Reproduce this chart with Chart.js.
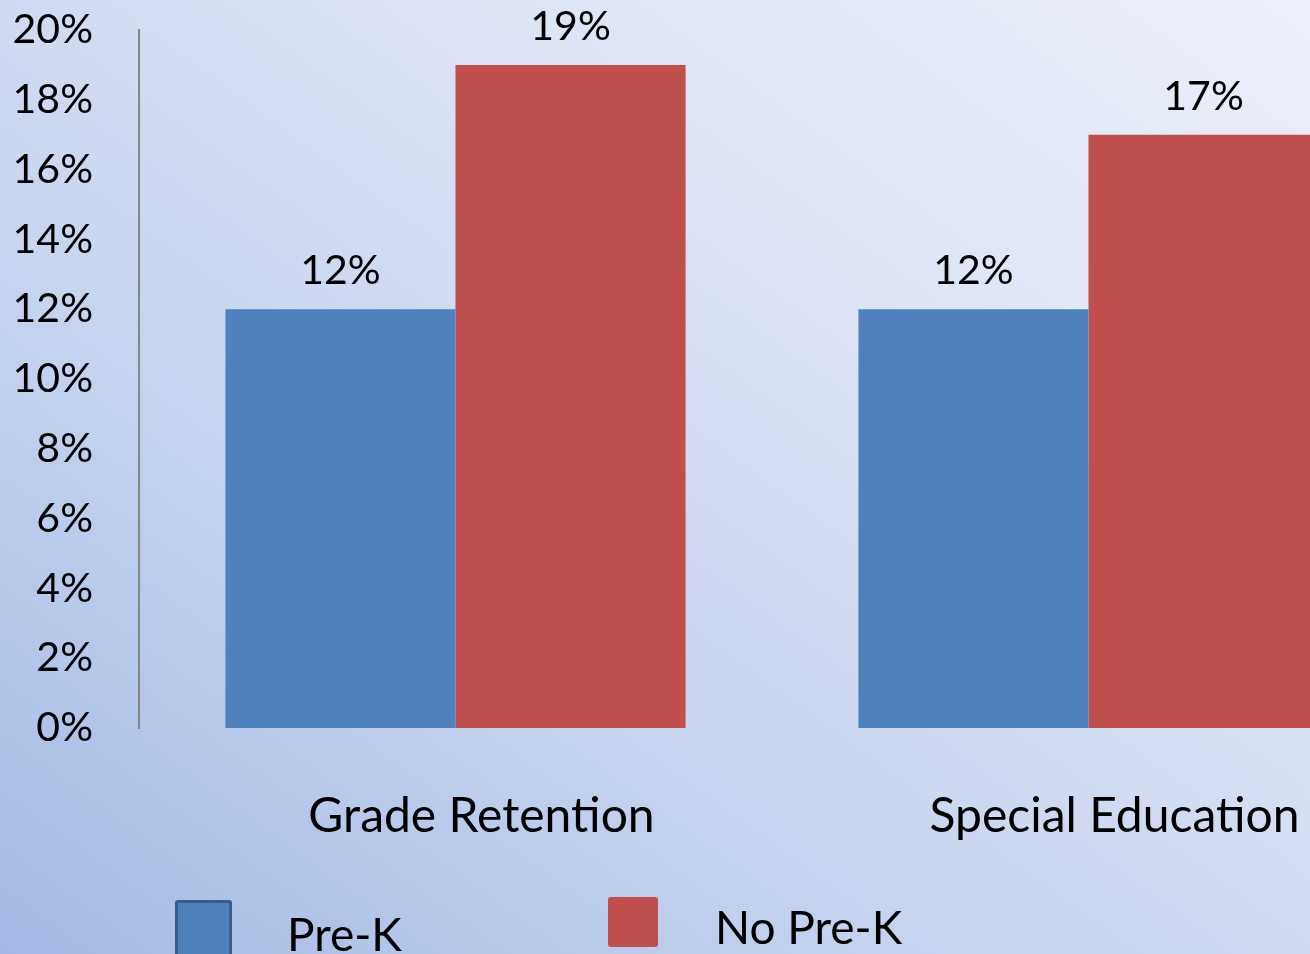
<!DOCTYPE html>
<html>
<head>
<meta charset="utf-8">
<script src="https://cdn.jsdelivr.net/npm/chart.js@4.4.1/dist/chart.umd.min.js"></script>
<style>
    html, body {
        margin: 0;
        padding: 0;
        width: 1310px;
        height: 954px;
        overflow: hidden;
    }
    body {
        position: relative;
        background: linear-gradient(to top right, #a4b9e4 0%, #c5d3ee 35%, #dbe3f4 65%, #ebeff9 100%);
        font-family: Lato, "Open Sans", sans-serif;
    }
    #wrap {
        position: absolute;
        left: 0;
        top: 0;
        width: 1405px;
        height: 954px;
    }
    .legend-item {
        position: absolute;
        font-size: 46px;
        line-height: 1;
        color: #000;
    }
    .legend-box {
        position: absolute;
        box-sizing: border-box;
    }
</style>
</head>
<body>
<div id="wrap"><canvas id="barChart"></canvas></div>
<div id="legend"></div>

<script>
// Chart data
const categories = ['Grade Retention', 'Special Education'];
const preK = [12, 12];     // Pre-K (%)
const noPreK = [19, 17];   // No Pre-K (%)
const yTicks = [0, 2, 4, 6, 8, 10, 12, 14, 16, 18, 20];

const blue = '#4f81bd';
const red = '#c0504d';

// Plugin to draw the value labels above each bar
const valueLabels = {
    id: 'valueLabels',
    afterDatasetsDraw(chart) {
        const ctx = chart.ctx;
        ctx.save();
        ctx.font = '41px Lato';
        ctx.fillStyle = '#000';
        ctx.textAlign = 'center';
        ctx.textBaseline = 'middle';
        chart.data.datasets.forEach((ds, i) => {
            chart.getDatasetMeta(i).data.forEach((bar, j) => {
                ctx.fillText(ds.data[j] + '%', bar.x, bar.y - 38);
            });
        });
        ctx.restore();
    }
};

const ctx = document.getElementById('barChart').getContext('2d');
const chart = new Chart(ctx, {
    type: 'bar',
    data: {
        labels: categories,
        datasets: [
            { label: 'Pre-K', data: preK, backgroundColor: blue },
            { label: 'No Pre-K', data: noPreK, backgroundColor: red }
        ]
    },
    options: {
        responsive: true,
        maintainAspectRatio: false,
        animation: false,
        categoryPercentage: 0.727,
        barPercentage: 1,
        layout: { padding: { top: 30, left: 0, right: 0, bottom: 0 } },
        plugins: {
            legend: { display: false },
            tooltip: { enabled: false }
        },
        scales: {
            x: {
                grid: { display: false },
                border: { display: false },
                ticks: {
                    color: '#000',
                    font: { family: 'Lato', size: 48 },
                    padding: 52,
                    labelOffset: 26,
                    maxRotation: 0,
                    autoSkip: false
                },
                afterFit: (scale) => { scale.height = 226; }
            },
            y: {
                min: 0,
                max: 20,
                grid: { display: false, drawTicks: false },
                border: { display: true, color: '#868686', width: 2 },
                afterBuildTicks: (scale) => { scale.ticks = yTicks.map(v => ({ value: v })); },
                ticks: {
                    color: '#000',
                    font: { family: 'Lato', size: 41 },
                    padding: 46,
                    callback: (v) => v + '%'
                },
                afterFit: (scale) => {
                    scale.width = 139;
                    scale.paddingTop = 0;
                    scale.paddingBottom = 0;
                }
            }
        }
    },
    plugins: [valueLabels]
});

// HTML legend built from the datasets
const legendSpots = [
    { box: [175, 900, 57, 60], border: '3px solid #385d8a', text: [287, 911] },
    { box: [608, 897, 50, 50], border: 'none', text: [715, 904] }
];
const legendEl = document.getElementById('legend');
chart.data.datasets.forEach((ds, i) => {
    const s = legendSpots[i];
    const box = document.createElement('div');
    box.className = 'legend-box';
    box.style.left = s.box[0] + 'px';
    box.style.top = s.box[1] + 'px';
    box.style.width = s.box[2] + 'px';
    box.style.height = s.box[3] + 'px';
    box.style.background = ds.backgroundColor;
    box.style.border = s.border;
    box.style.borderRadius = '3px';
    legendEl.appendChild(box);

    const txt = document.createElement('div');
    txt.className = 'legend-item';
    txt.style.left = s.text[0] + 'px';
    txt.style.top = s.text[1] + 'px';
    txt.textContent = ds.label;
    legendEl.appendChild(txt);
});
</script>
</body>
</html>
